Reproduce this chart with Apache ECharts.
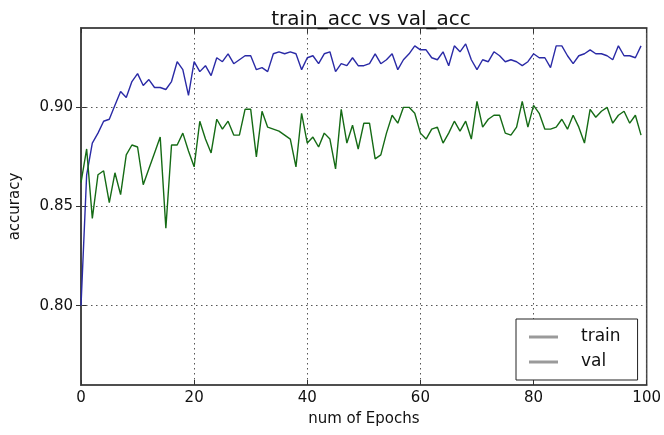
<!DOCTYPE html>
<html>
<head>
<meta charset="utf-8">
<script src="https://cdn.jsdelivr.net/npm/echarts@6/dist/echarts.min.js"></script>
<style>
html,body{margin:0;padding:0;background:#fff;}
#chart{width:664px;height:435px;}
</style>
</head>
<body>
<div id="chart"></div>
<script>
var titleText = 'train_acc vs val_acc';
var xName = 'num of Epochs';
var yName = 'accuracy';
var seriesNames = ['train', 'val'];
var xTicks = [0, 20, 40, 60, 80, 100];
var yTicks = [0.80, 0.85, 0.90];

var train = [
0.800,0.866,0.882,0.887,0.893,0.894,0.901,0.908,0.905,0.913,
0.917,0.911,0.914,0.910,0.910,0.909,0.913,0.923,0.919,0.906,
0.923,0.918,0.921,0.916,0.925,0.923,0.927,0.922,0.924,0.926,
0.926,0.919,0.920,0.918,0.927,0.928,0.927,0.928,0.927,0.919,
0.925,0.926,0.922,0.927,0.928,0.918,0.922,0.921,0.925,0.921,
0.921,0.922,0.927,0.922,0.924,0.927,0.919,0.924,0.927,0.931,
0.929,0.929,0.925,0.924,0.928,0.921,0.931,0.928,0.932,0.924,
0.919,0.924,0.923,0.928,0.926,0.923,0.924,0.923,0.921,0.923,
0.927,0.925,0.925,0.920,0.931,0.931,0.926,0.922,0.926,0.927,
0.929,0.927,0.927,0.926,0.924,0.931,0.926,0.926,0.925,0.931];

var val = [
0.862,0.879,0.844,0.866,0.868,0.852,0.867,0.856,0.876,0.881,
0.880,0.861,0.869,0.877,0.885,0.839,0.881,0.881,0.887,0.878,
0.870,0.893,0.884,0.877,0.894,0.889,0.893,0.886,0.886,0.899,
0.899,0.875,0.898,0.890,0.889,0.888,0.886,0.884,0.870,0.897,
0.882,0.885,0.880,0.887,0.884,0.869,0.899,0.882,0.891,0.879,
0.892,0.892,0.874,0.876,0.887,0.896,0.892,0.900,0.900,0.897,
0.887,0.884,0.889,0.890,0.882,0.887,0.893,0.888,0.893,0.884,
0.903,0.890,0.894,0.896,0.896,0.887,0.886,0.890,0.903,0.890,
0.901,0.897,0.889,0.889,0.890,0.894,0.889,0.896,0.890,0.882,
0.899,0.895,0.898,0.900,0.892,0.896,0.898,0.892,0.896,0.886];

var FONT = 'DejaVu Sans';
var chart = echarts.init(document.getElementById('chart'), null, {renderer: 'canvas'});

var gridLine = {type: [1.5, 3.5], color: '#555', width: 1};
var tickStyle = {color: '#333', width: 1};

function xAxisCfg(pos, showLabel) {
  return {
    type: 'value', position: pos, min: 0, max: 100, interval: 20,
    name: showLabel ? xName : '',
    nameLocation: 'middle', nameGap: 27,
    nameTextStyle: {fontFamily: FONT, fontSize: 15, color: '#111'},
    axisLine: {show: true, lineStyle: {color: '#444', width: 1.5}},
    axisTick: {show: true, inside: true, length: 5, lineStyle: tickStyle},
    axisLabel: {show: showLabel, fontFamily: FONT, fontSize: 15, color: '#111', margin: 6},
    splitLine: {show: showLabel, lineStyle: gridLine}
  };
}
function yAxisCfg(pos, showLabel) {
  return {
    type: 'value', position: pos, min: 0.76, max: 0.94,
    name: showLabel ? yName : '',
    nameLocation: 'middle', nameGap: 58,
    nameTextStyle: {fontFamily: FONT, fontSize: 15, color: '#111'},
    axisLine: {show: true, lineStyle: {color: '#444', width: 1.5}},
    axisTick: {show: true, inside: true, length: 5, lineStyle: tickStyle, customValues: yTicks},
    axisLabel: {show: showLabel, fontFamily: FONT, fontSize: 15, color: '#111', margin: 8,
      customValues: yTicks, formatter: function (v) { return v.toFixed(2); }},
    splitLine: {show: false}
  };
}

var option = {
  backgroundColor: '#fff',
  animation: false,
  title: {
    text: titleText, left: 366, top: 5, textAlign: 'center',
    textStyle: {fontFamily: FONT, fontSize: 20, fontWeight: 'normal', color: '#111'}
  },
  grid: {left: 81, right: 14, top: 28, bottom: 50, show: true, borderColor: '#444', borderWidth: 1.5, backgroundColor: '#fff'},
  legend: {
    orient: 'vertical', left: 516, top: 319,
    padding: [8, 17, 8, 13],
    icon: 'rect',
    itemWidth: 29, itemHeight: 3, itemGap: 5,
    borderColor: '#222', borderWidth: 1, borderRadius: 0,
    backgroundColor: '#fff',
    itemStyle: {color: '#9a9a9a', borderWidth: 0},
    textStyle: {fontFamily: FONT, fontSize: 17, color: '#111', padding: [0, 0, 0, 18], lineHeight: 20},
    data: seriesNames
  },
  xAxis: [xAxisCfg('bottom', true), xAxisCfg('top', false)],
  yAxis: [yAxisCfg('left', true), yAxisCfg('right', false)],
  series: [
    {
      name: seriesNames[0], type: 'line', showSymbol: false, symbol: 'none',
      data: train.map(function (v, i) { return [i, v]; }),
      lineStyle: {color: '#2a2aa6', width: 1.4}, itemStyle: {color: '#2a2aa6'}, z: 3
    },
    {
      name: seriesNames[1], type: 'line', showSymbol: false, symbol: 'none',
      data: val.map(function (v, i) { return [i, v]; }),
      lineStyle: {color: '#156b15', width: 1.4}, itemStyle: {color: '#156b15'}, z: 3,
      markLine: {
        silent: true, symbol: 'none', label: {show: false}, animation: false,
        lineStyle: gridLine, z: 1,
        data: yTicks.map(function (t) { return {yAxis: t}; })
      }
    }
  ]
};
chart.setOption(option);
</script>
</body>
</html>
